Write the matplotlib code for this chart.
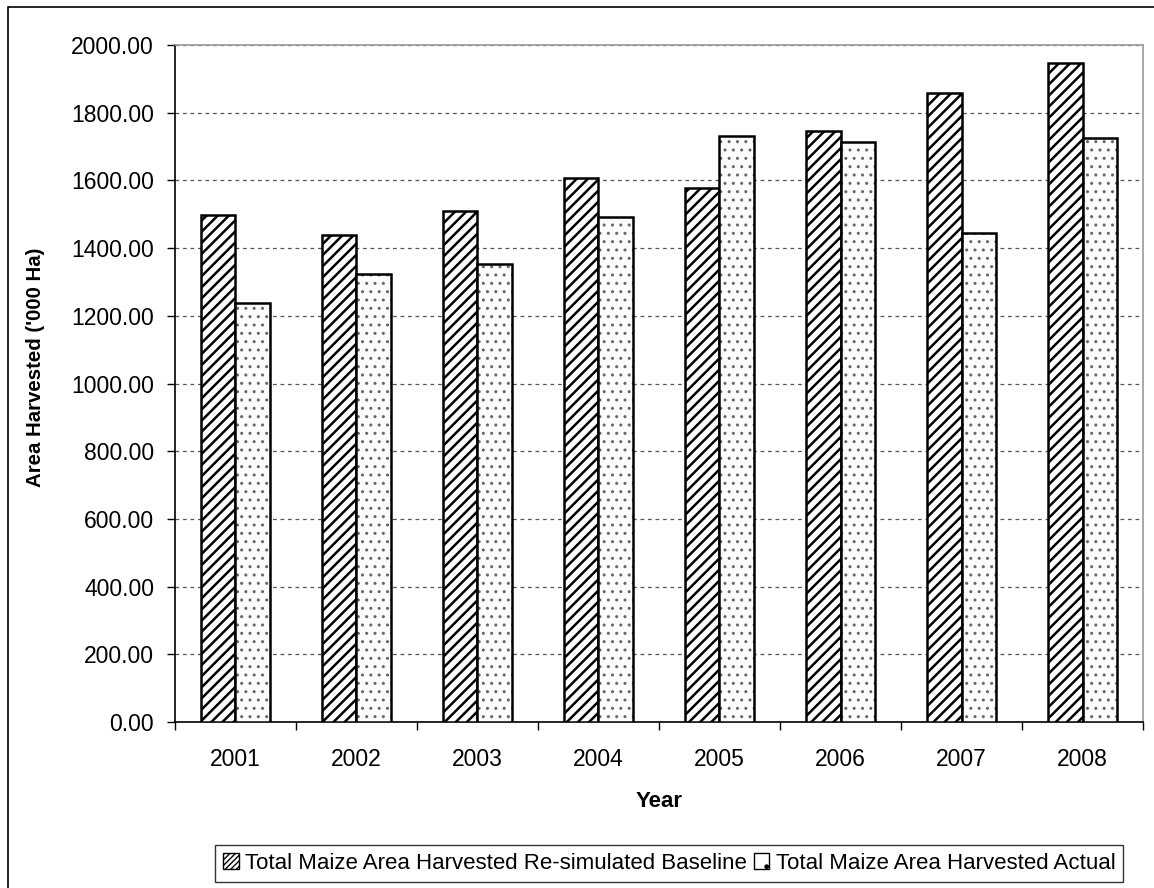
import numpy as np
import matplotlib
matplotlib.use('Agg')
import matplotlib.pyplot as plt
from matplotlib.patches import Rectangle, Patch

years = ['2001', '2002', '2003', '2004', '2005', '2006', '2007', '2008']
baseline = [1498, 1439, 1509, 1606, 1578, 1746, 1859, 1946]
actual = [1239, 1324, 1352, 1493, 1730, 1713, 1444, 1724]
y_ticks = np.arange(0, 2001, 200)

plt.rcParams['font.family'] = ['Liberation Sans', 'DejaVu Sans']

fig = plt.figure(figsize=(11.54, 8.88), dpi=100)
ax = fig.add_axes([0.1516, 0.1869, 0.8389, 0.7624])

x = np.arange(len(years))
w = 0.285

# hatched baseline bars
plt.rcParams['hatch.linewidth'] = 1.8
ax.bar(x - w / 2, baseline, w, color='white', edgecolor='black', hatch='///', linewidth=1.8, zorder=3)

# dotted actual bars: dots in grey, outline in black
plt.rcParams['hatch.linewidth'] = 1.0
ax.bar(x + w / 2, actual, w, color='#fcfcfc', edgecolor='#666666', hatch='..', linewidth=0, zorder=3)
ax.bar(x + w / 2, actual, w, fill=False, edgecolor='black', linewidth=1.8, zorder=4)

ax.set_xlim(-0.5, len(years) - 0.5)
ax.set_ylim(0, 2000)
ax.set_yticks(y_ticks)
ax.set_yticklabels([f'{v:.2f}' for v in y_ticks])
ax.yaxis.grid(True, linestyle=(0, (3, 3)), color='#555555', linewidth=0.9, zorder=0)

ax.set_xticks(np.arange(len(years) + 1) - 0.5)
ax.set_xticklabels([])
ax.set_xticks(x, minor=True)
ax.set_xticklabels(years, minor=True)
ax.tick_params(axis='x', which='major', direction='out', length=6, width=1)
ax.tick_params(axis='x', which='minor', length=0, pad=19, labelsize=16.5)
ax.tick_params(axis='y', direction='out', length=6, width=1, pad=9, labelsize=16.5)

for s in ['left', 'bottom']:
    ax.spines[s].set_color('black')
    ax.spines[s].set_linewidth(1.2)
for s in ['top', 'right']:
    ax.spines[s].set_color('#9a9a9a')
    ax.spines[s].set_linewidth(1.2)

ax.set_xlabel('Year', fontsize=16, fontweight='bold', labelpad=14)
ax.set_ylabel("Area Harvested ('000 Ha)", fontsize=14.7, fontweight='bold')
ax.yaxis.set_label_coords(-0.134, 0.524)

handles = [Patch(facecolor='white', edgecolor='black', hatch='//////', linewidth=1),
           Patch(facecolor='white', edgecolor='black', hatch='.', linewidth=1)]
labels = ['Total Maize Area Harvested Re-simulated Baseline', 'Total Maize Area Harvested Actual']
leg = fig.legend(handles, labels, loc='center', bbox_to_anchor=(0.58, 0.0276), ncol=2,
                 fontsize=16, frameon=True, fancybox=False, edgecolor='black',
                 handlelength=0.7, handleheight=0.7, handletextpad=0.3, columnspacing=0.3,
                 borderpad=0.35, borderaxespad=0)
leg.get_frame().set_linewidth(1.0)

# outer chart border
fig.patches.append(Rectangle((8 / 1154, -0.05), 1.2, 1 - 7 / 888 + 0.05, transform=fig.transFigure,
                             fill=False, edgecolor='black', linewidth=1.2))

fig.savefig('out.png', dpi=100)
